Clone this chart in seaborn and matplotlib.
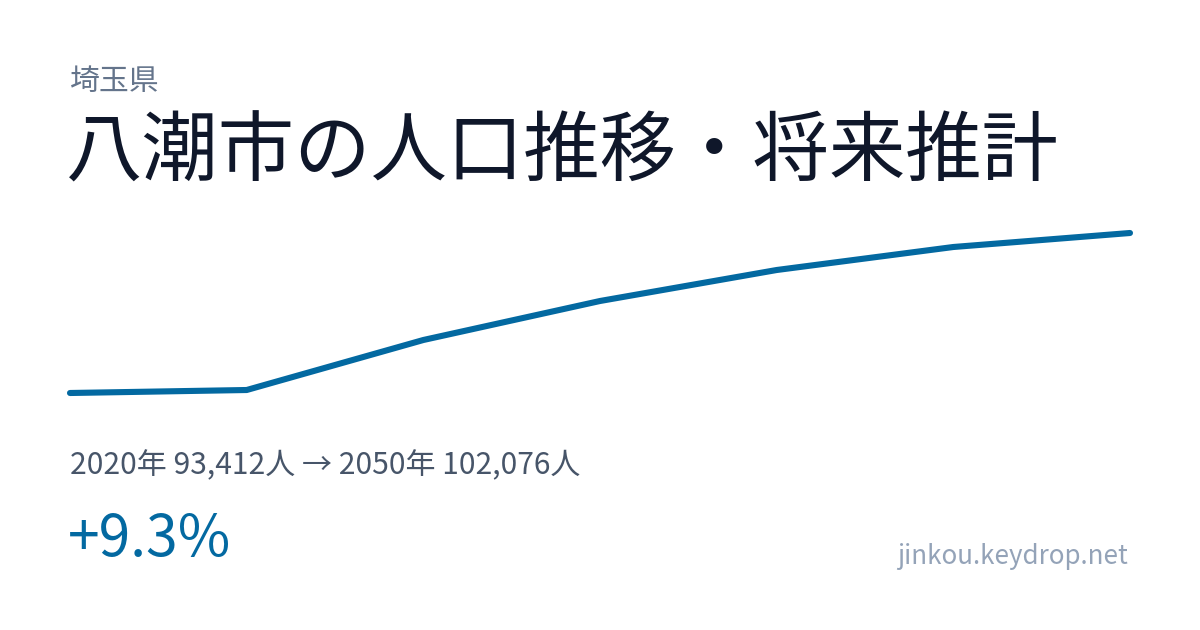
import pandas as pd
import matplotlib
matplotlib.use("Agg")
import matplotlib.pyplot as plt
import seaborn as sns

# population data
years = [2020, 2025, 2030, 2035, 2040, 2045, 2050]
population = [93412, 93574, 96282, 98394, 100072, 101318, 102076]

prefecture = "埼玉県"
title = "八潮市の人口推移・将来推計"
summary = "2020年 93,412人 → 2050年 102,076人"
change = "+9.3%"
site = "jinkou.keydrop.net"

sns.set_theme(style="white")
plt.rcParams['font.family'] = ['Noto Sans CJK JP', 'DejaVu Sans']

df = pd.DataFrame({"year": years, "population": population})

fig = plt.figure(figsize=(12, 6.3), dpi=100)
fig.patch.set_facecolor("white")

# line area: x 70..1130 px, y 233..393 px
ax = fig.add_axes([70 / 1200, 1 - 393 / 630, 1060 / 1200, 160 / 630])
sns.lineplot(data=df, x="year", y="population", ax=ax,
             color="#0369a1", linewidth=4.4, clip_on=False)
ax.set_xlim(min(years), max(years))
ax.set_ylim(min(population), max(population))
ax.set_axis_off()

def px(x, y):
    return x / 1200, 1 - y / 630

fig.text(*px(70, 81), prefecture, fontsize=21.5, color="#64748b", va="center", ha="left")
fig.text(*px(66, 154), title, fontsize=55, color="#0f172a", va="center", ha="left")
fig.text(*px(70, 466), summary, fontsize=21.6, color="#475569", va="center", ha="left")
fig.text(*px(68, 540), change, fontsize=41, color="#0369a1", va="center", ha="left")
fig.text(*px(1128, 557), site, fontsize=18.7, color="#94a3b8", va="center", ha="right")

fig.savefig("out.png", dpi=100, facecolor="white")
